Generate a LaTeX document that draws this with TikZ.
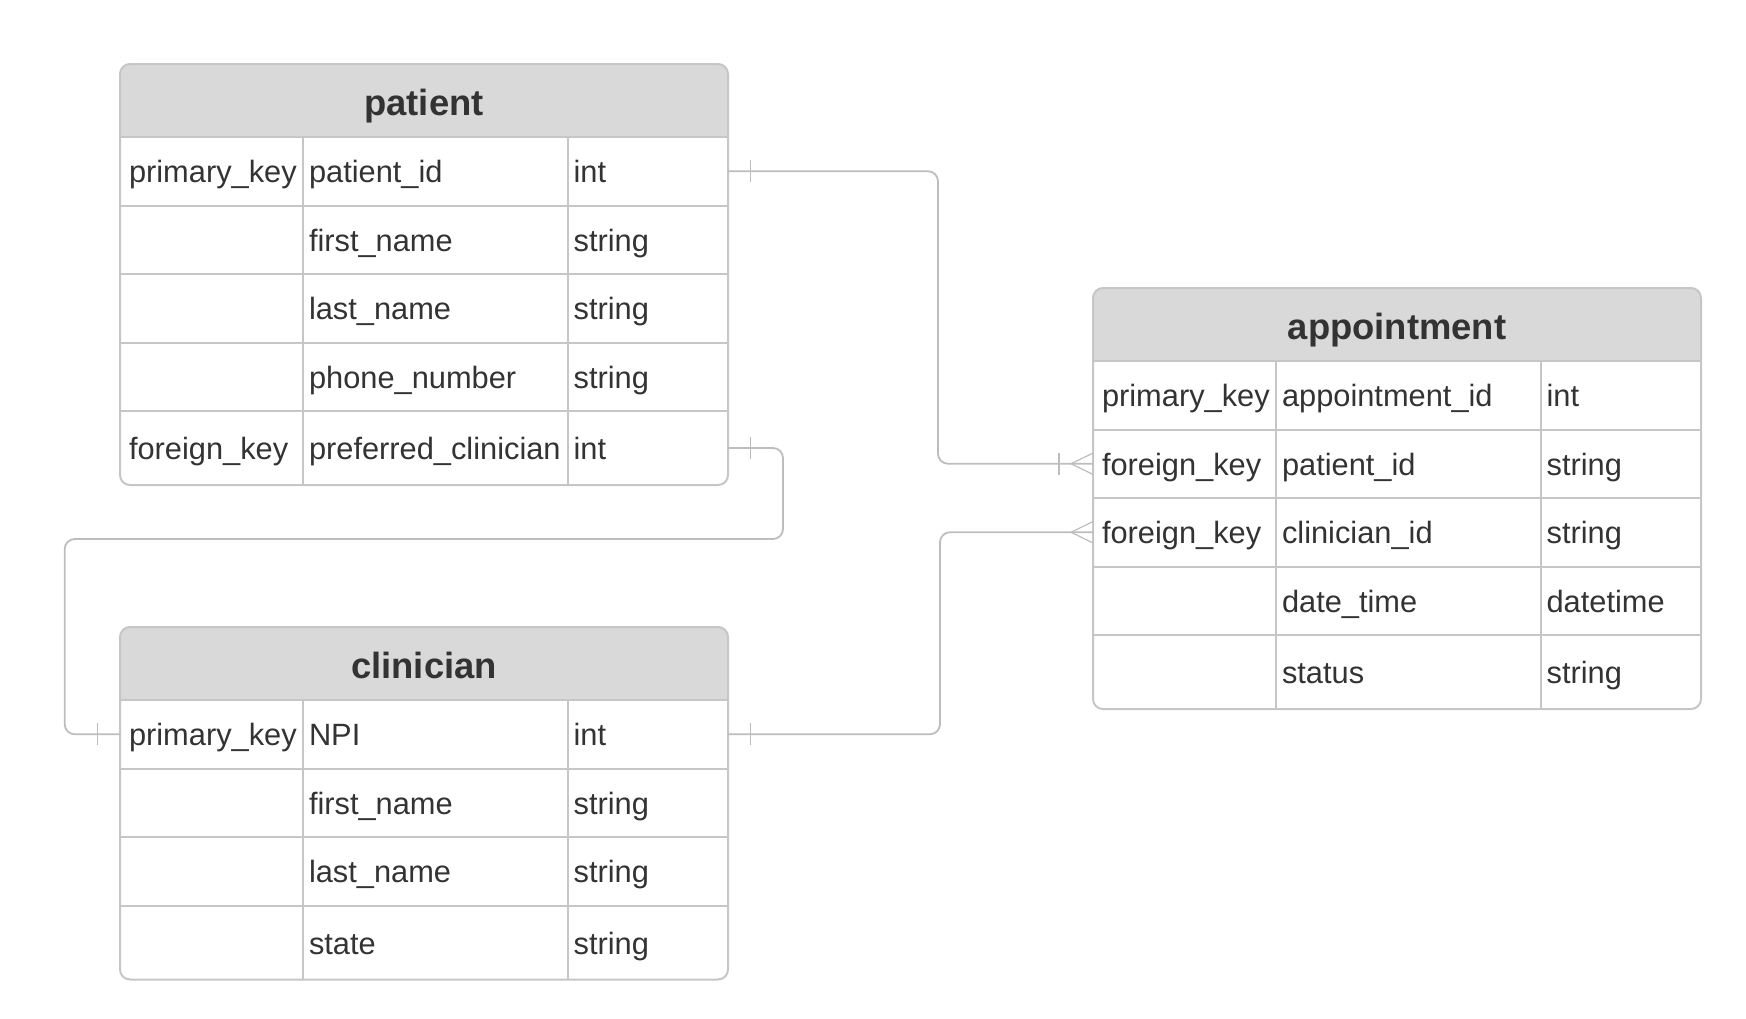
\documentclass[tikz,border=0pt]{standalone}
\usepackage{fontspec}
\setmainfont{Liberation Sans}
\usepackage{tikz}
\usetikzlibrary{positioning,backgrounds}
\definecolor{inkgrey}{HTML}{333333}
\definecolor{rulegrey}{HTML}{C6C6C6}
\definecolor{headgrey}{HTML}{D9D9D9}
\definecolor{linkgrey}{HTML}{BDBDBD}
\hyphenpenalty=10000
\exhyphenpenalty=10000
\tikzstyle{tablehead}=[anchor=north west,minimum width=304pt,minimum height=36.5pt,
              inner sep=0pt,outer sep=0pt,text height=17pt,text depth=2.5pt,
              font=\bfseries\fontsize{18.2}{22}\selectfont,text=inkgrey]
\tikzstyle{cell}=[inner ysep=0pt,outer sep=0pt,minimum height=34.25pt,text height=14pt,
              text depth=2.3pt,align=left,font=\fontsize{15.4}{18}\selectfont,text=inkgrey]
\tikzstyle{keycell}=[cell,inner xsep=4.5pt,text width=82.5pt]
\tikzstyle{namecell}=[cell,inner xsep=3pt,text width=126.5pt]
\tikzstyle{typecell}=[cell,inner xsep=2.8pt,text width=74.4pt]
\tikzstyle{lastrow}=[minimum height=37pt]
\tikzstyle{rule}=[draw=rulegrey,line width=1pt]
\tikzstyle{link}=[draw=linkgrey,line width=0.9pt,rounded corners=5pt]
\tikzstyle{tick}=[draw=linkgrey,line width=0.6pt]
\begin{document}
\begin{tikzpicture}[x=0.5pt,y=-0.5pt]
\useasboundingbox (0,0) rectangle (1746,1018);

	% patient
	\node[tablehead] (ph) at (120,64) {patient};
	\node[keycell,anchor=north west] (pk1) at (ph.south west) {primary\_key};
	\node[namecell] (pn1) [right=0pt of pk1] {patient\_id};
	\node[typecell] (pt1) [right=0pt of pn1] {int};
	\node[keycell] (pk2) [below=0pt of pk1] {};
	\node[namecell] (pn2) [right=0pt of pk2] {first\_name};
	\node[typecell] (pt2) [right=0pt of pn2] {string};
	\node[keycell] (pk3) [below=0pt of pk2] {};
	\node[namecell] (pn3) [right=0pt of pk3] {last\_name};
	\node[typecell] (pt3) [right=0pt of pn3] {string};
	\node[keycell] (pk4) [below=0pt of pk3] {};
	\node[namecell] (pn4) [right=0pt of pk4] {phone\_number};
	\node[typecell] (pt4) [right=0pt of pn4] {string};
	\node[keycell,lastrow] (pk5) [below=0pt of pk4] {foreign\_key};
	\node[namecell,lastrow] (pn5) [right=0pt of pk5] {preferred\_clinician};
	\node[typecell,lastrow] (pt5) [right=0pt of pn5] {int};

	% clinician
	\node[tablehead] (ch) at (120,627) {clinician};
	\node[keycell,anchor=north west] (ck1) at (ch.south west) {primary\_key};
	\node[namecell] (cn1) [right=0pt of ck1] {NPI};
	\node[typecell] (ct1) [right=0pt of cn1] {int};
	\node[keycell] (ck2) [below=0pt of ck1] {};
	\node[namecell] (cn2) [right=0pt of ck2] {first\_name};
	\node[typecell] (ct2) [right=0pt of cn2] {string};
	\node[keycell] (ck3) [below=0pt of ck2] {};
	\node[namecell] (cn3) [right=0pt of ck3] {last\_name};
	\node[typecell] (ct3) [right=0pt of cn3] {string};
	\node[keycell,lastrow] (ck4) [below=0pt of ck3] {};
	\node[namecell,lastrow] (cn4) [right=0pt of ck4] {state};
	\node[typecell,lastrow] (ct4) [right=0pt of cn4] {string};

	% appointment
	\node[tablehead] (ah) at (1093,288) {appointment};
	\node[keycell,anchor=north west] (ak1) at (ah.south west) {primary\_key};
	\node[namecell] (an1) [right=0pt of ak1] {appointment\_id};
	\node[typecell] (at1) [right=0pt of an1] {int};
	\node[keycell] (ak2) [below=0pt of ak1] {foreign\_key};
	\node[namecell] (an2) [right=0pt of ak2] {patient\_id};
	\node[typecell] (at2) [right=0pt of an2] {string};
	\node[keycell] (ak3) [below=0pt of ak2] {foreign\_key};
	\node[namecell] (an3) [right=0pt of ak3] {clinician\_id};
	\node[typecell] (at3) [right=0pt of an3] {string};
	\node[keycell] (ak4) [below=0pt of ak3] {};
	\node[namecell] (an4) [right=0pt of ak4] {date\_time};
	\node[typecell] (at4) [right=0pt of an4] {datetime};
	\node[keycell,lastrow] (ak5) [below=0pt of ak4] {};
	\node[namecell,lastrow] (an5) [right=0pt of ak5] {status};
	\node[typecell,lastrow] (at5) [right=0pt of an5] {string};

	% header fills
	\begin{scope}[on background layer]
		\fill[headgrey,rounded corners=5pt] (ph.north west) rectangle (ph.south east);
		\fill[headgrey] (ph.west) rectangle (ph.south east);
		\fill[headgrey,rounded corners=5pt] (ch.north west) rectangle (ch.south east);
		\fill[headgrey] (ch.west) rectangle (ch.south east);
		\fill[headgrey,rounded corners=5pt] (ah.north west) rectangle (ah.south east);
		\fill[headgrey] (ah.west) rectangle (ah.south east);
	\end{scope}

	% grid lines
	\draw[rule] (ph.south west) -- (ph.south east);
	\draw[rule] (ch.south west) -- (ch.south east);
	\draw[rule] (ah.south west) -- (ah.south east);
	\foreach \r in {2,...,5}
		\draw[rule] (pk\r.north west) -- (pt\r.north east);
	\foreach \r in {2,...,4}
		\draw[rule] (ck\r.north west) -- (ct\r.north east);
	\foreach \r in {2,...,5}
		\draw[rule] (ak\r.north west) -- (at\r.north east);
	\draw[rule] (pn1.north west) -- (pn5.south west);
	\draw[rule] (pt1.north west) -- (pt5.south west);
	\draw[rule] (cn1.north west) -- (cn4.south west);
	\draw[rule] (ct1.north west) -- (ct4.south west);
	\draw[rule] (an1.north west) -- (an5.south west);
	\draw[rule] (at1.north west) -- (at5.south west);
	\draw[rule,rounded corners=5pt] (ph.north west) rectangle (pt5.south east);
	\draw[rule,rounded corners=5pt] (ch.north west) rectangle (ct4.south east);
	\draw[rule,rounded corners=5pt] (ah.north west) rectangle (at5.south east);

	% relations
	\coordinate (pbend) at (938,0);
	\coordinate (fkbend) at (783,539);
	\coordinate (fkleft) at (64.7,539);
	\coordinate (cbend) at (940,0);

	\draw[link] (pt1.east) -- (pt1.east -| pbend) |- (ak2.west);
	\draw[link] (pt5.east) -| (fkbend) -- (fkleft) |- (ck1.west);
	\draw[link] (ct1.east) -- (ct1.east -| cbend) |- (ak3.west);

	% one marks
	\draw[tick] ([xshift=11.35pt,yshift=5.5pt]pt1.east) -- ([xshift=11.35pt,yshift=-5.5pt]pt1.east);
	\draw[tick] ([xshift=11.35pt,yshift=5.5pt]pt5.east) -- ([xshift=11.35pt,yshift=-5.5pt]pt5.east);
	\draw[tick] ([xshift=-11.3pt,yshift=5.5pt]ck1.west) -- ([xshift=-11.3pt,yshift=-5.5pt]ck1.west);
	\draw[tick] ([xshift=11.25pt,yshift=5.5pt]ct1.east) -- ([xshift=11.25pt,yshift=-5.5pt]ct1.east);
	\draw[tick] ([xshift=-17pt,yshift=5.5pt]ak2.west) -- ([xshift=-17pt,yshift=-5.5pt]ak2.west);

	% many marks
	\draw[tick] ([yshift=5.35pt]ak2.west) -- ([xshift=-11pt]ak2.west) -- ([yshift=-5.35pt]ak2.west);
	\draw[tick] ([yshift=5.35pt]ak3.west) -- ([xshift=-11pt]ak3.west) -- ([yshift=-5.35pt]ak3.west);
\end{tikzpicture}
\end{document}
